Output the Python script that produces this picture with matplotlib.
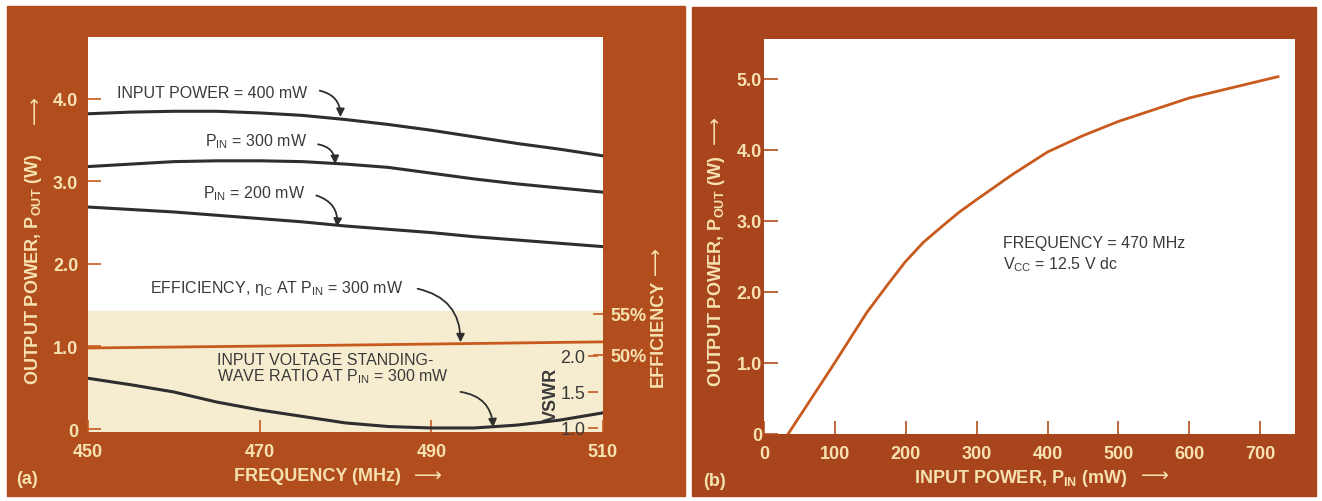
import matplotlib.pyplot as plt
from matplotlib.patches import Rectangle

plt.rcParams['font.family'] = ['Liberation Sans Narrow', 'Liberation Sans', 'DejaVu Sans']
plt.rcParams['mathtext.default'] = 'regular'

# ---- data, panel (a): output power vs frequency ----
freq = [450, 455, 460, 465, 470, 475, 480, 485, 490, 495, 500, 505, 510]
pout_400 = [3.82, 3.84, 3.85, 3.85, 3.83, 3.80, 3.75, 3.69, 3.62, 3.54, 3.46, 3.39, 3.31]
pout_300 = [3.18, 3.21, 3.24, 3.25, 3.25, 3.24, 3.21, 3.17, 3.10, 3.03, 2.97, 2.92, 2.87]
pout_200 = [2.69, 2.66, 2.63, 2.59, 2.55, 2.51, 2.46, 2.42, 2.38, 2.33, 2.29, 2.25, 2.21]
vswr = [1.69, 1.60, 1.50, 1.36, 1.25, 1.16, 1.07, 1.02, 1.00, 1.00, 1.04, 1.11, 1.21]
eff_freq = [450, 480, 510]
efficiency = [50.85, 51.2, 51.6]

# ---- data, panel (b): output power vs input power at 470 MHz ----
pin = [34, 97, 145, 175, 199, 225, 252, 275, 300, 350, 400, 450, 500, 600, 700, 725]
pout = [0, 0.96, 1.71, 2.11, 2.42, 2.70, 2.93, 3.12, 3.30, 3.65, 3.97, 4.20, 4.40, 4.73, 4.97, 5.03]

BROWN_A = '#B24E1E'
BROWN_B = '#A9451C'
ORANGE = '#C85A1E'
CREAM = '#F6E2B0'
BEIGE = '#F6EDD0'
INK = '#2E2E2E'
TXT = '#3A3A3A'

fig = plt.figure(figsize=(13.22, 5.02), dpi=100)
W, H = 1322, 502


def box(x0, y0, x1, y1):
    return [x0 / W, 1 - y1 / H, (x1 - x0) / W, (y1 - y0) / H]


def long_arrow(x, y, rot=0):
    # the long "⟶" that follows each axis title
    fig.text(x / W, 1 - y / H, '⟶', family='DejaVu Sans', color=CREAM, fontsize=14,
             rotation=rot, ha='center', va='center')


fig.patches.append(Rectangle((7 / W, 1 - 497 / H), 678 / W, 490 / H,
                             transform=fig.transFigure, color=BROWN_A, zorder=-5))
fig.patches.append(Rectangle((692 / W, 1 - 497 / H), 624 / W, 489 / H,
                             transform=fig.transFigure, color=BROWN_B, zorder=-5))

# ================= panel (a) =================
ax = fig.add_axes(box(88, 38, 603, 433))
ax.set_xlim(450, 510)
ax.set_ylim(-0.036, 4.75)
for s in ax.spines.values():
    s.set_visible(False)
ax.axhspan(-0.1, 1.43, color=BEIGE, zorder=0)

ax.plot(freq, pout_400, color=INK, lw=2.2)
ax.plot(freq, pout_300, color=INK, lw=2.2)
ax.plot(freq, pout_200, color=INK, lw=2.2)

ax.set_xticks([450, 470, 490, 510])
ax.set_yticks([0, 1, 2, 3, 4])
ax.set_yticklabels(['0', '1.0', '2.0', '3.0', '4.0'])
ax.tick_params(axis='x', direction='in', length=9, width=1.2, color=ORANGE,
               labelcolor=CREAM, labelsize=13, pad=8)
ax.tick_params(axis='y', direction='in', length=9, width=1.2, color=ORANGE,
               labelcolor=CREAM, labelsize=13, pad=7)
for lbl in ax.get_xticklabels() + ax.get_yticklabels():
    lbl.set_fontweight('bold')

ax.set_xlabel('FREQUENCY (MHz)', color=CREAM, fontsize=13, fontweight='bold')
ax.xaxis.set_label_coords(0.445, -0.088)
ax.set_ylabel('OUTPUT POWER, P$_{OUT}$ (W)', color=CREAM, fontsize=13, fontweight='bold')
ax.yaxis.set_label_coords(-0.085, 0.413)
long_arrow(428, 476)
long_arrow(35, 110, rot=90)

# efficiency axis (right)
axe = ax.twinx()
axe.set_ylim(40.6, 88.8)
for s in axe.spines.values():
    s.set_visible(False)
axe.plot(eff_freq, efficiency, color=ORANGE, lw=2.0)
axe.set_yticks([50, 55])
axe.set_yticklabels(['50%', '55%'])
axe.tick_params(axis='y', direction='in', length=7, width=1.2, color=ORANGE,
                labelcolor=CREAM, labelsize=13, pad=5)
for lbl in axe.get_yticklabels():
    lbl.set_fontweight('bold')
axe.set_ylabel('EFFICIENCY', color=CREAM, fontsize=13, fontweight='bold')
axe.yaxis.set_label_coords(1.091, 0.253)
long_arrow(656, 261, rot=90)

# VSWR axis (inside the plot)
axv = ax.twinx()
axv.set_ylim(0.944, 6.43)
for s in axv.spines.values():
    s.set_visible(False)
axv.yaxis.set_ticks_position('left')
axv.yaxis.set_label_position('left')
axv.spines['left'].set_position(('axes', 0.99))
axv.plot(freq, vswr, color=INK, lw=2.2)
axv.set_yticks([1.0, 1.5, 2.0])
axv.set_yticklabels(['1.0', '1.5', '2.0'])
axv.tick_params(axis='y', direction='out', length=7, width=1.2, color=ORANGE,
                labelcolor=TXT, labelsize=13, pad=2)
axv.set_ylabel('VSWR', color=TXT, fontsize=13, fontweight='bold')
axv.yaxis.set_label_coords(0.916, 0.096)

# annotations
arrow = dict(arrowstyle='-|>', color=INK, lw=1.3, mutation_scale=12,
             shrinkA=0, shrinkB=0, connectionstyle='arc3,rad=-0.4')
fs = 11.5
ax.text(475.5, 4.08, 'INPUT POWER = 400 mW', ha='right', va='center', fontsize=fs, color=TXT)
ax.annotate('', xy=(479.4, 3.78), xytext=(477.0, 4.10), arrowprops=arrow)
ax.text(475.5, 3.49, 'P$_{IN}$ = 300 mW', ha='right', va='center', fontsize=fs, color=TXT)
ax.annotate('', xy=(478.8, 3.21), xytext=(476.8, 3.45), arrowprops=arrow)
ax.text(475.3, 2.87, 'P$_{IN}$ = 200 mW', ha='right', va='center', fontsize=fs, color=TXT)
ax.annotate('', xy=(479.0, 2.45), xytext=(476.6, 2.83), arrowprops=arrow)
ax.text(457.2, 1.71, r'EFFICIENCY, $\eta_C$ AT P$_{IN}$ = 300 mW', ha='left', va='center',
        fontsize=fs, color=TXT)
ax.annotate('', xy=(493.4, 1.05), xytext=(488.4, 1.70), arrowprops=arrow)
ax.text(465.0, 0.73, 'INPUT VOLTAGE STANDING-\nWAVE RATIO AT P$_{IN}$ = 300 mW', ha='left',
        va='center', fontsize=fs, color=TXT, linespacing=0.95)
ax.annotate('', xy=(497.2, 0.02), xytext=(493.4, 0.45), arrowprops=arrow)

fig.text(16 / W, 1 - 480 / H, '(a)', color=CREAM, fontsize=13, fontweight='bold', va='center')

# ================= panel (b) =================
axb = fig.add_axes(box(764, 40, 1295, 435))
axb.set_xlim(0, 749)
axb.set_ylim(0, 5.56)
for s in axb.spines.values():
    s.set_visible(False)
axb.plot(pin, pout, color=ORANGE, lw=2.0)

axb.set_xticks([0, 100, 200, 300, 400, 500, 600, 700])
axb.set_yticks([0, 1, 2, 3, 4, 5])
axb.set_yticklabels(['0', '1.0', '2.0', '3.0', '4.0', '5.0'])
axb.tick_params(axis='x', direction='in', length=9.5, width=1.2, color=BROWN_A,
                labelcolor=CREAM, labelsize=13, pad=8)
axb.tick_params(axis='y', direction='in', length=10, width=1.2, color=BROWN_A,
                labelcolor=CREAM, labelsize=13, pad=1.5)
for lbl in axb.get_xticklabels() + axb.get_yticklabels():
    lbl.set_fontweight('bold')

axb.set_xlabel('INPUT POWER, P$_{IN}$ (mW)', color=CREAM, fontsize=13, fontweight='bold')
axb.xaxis.set_label_coords(0.483, -0.0835)
axb.set_ylabel('OUTPUT POWER, P$_{OUT}$ (W)', color=CREAM, fontsize=13, fontweight='bold')
axb.yaxis.set_label_coords(-0.070, 0.415)
long_arrow(1155, 476)
long_arrow(715, 130, rot=90)

axb.text(0.450, 0.486, 'FREQUENCY = 470 MHz', transform=axb.transAxes, ha='left',
         va='center', fontsize=fs, color=TXT)
axb.text(0.450, 0.430, 'V$_{CC}$ = 12.5 V dc', transform=axb.transAxes, ha='left',
         va='center', fontsize=fs, color=TXT)

fig.text(703 / W, 1 - 482 / H, '(b)', color=CREAM, fontsize=13, fontweight='bold', va='center')

fig.savefig('out.png', dpi=100)
